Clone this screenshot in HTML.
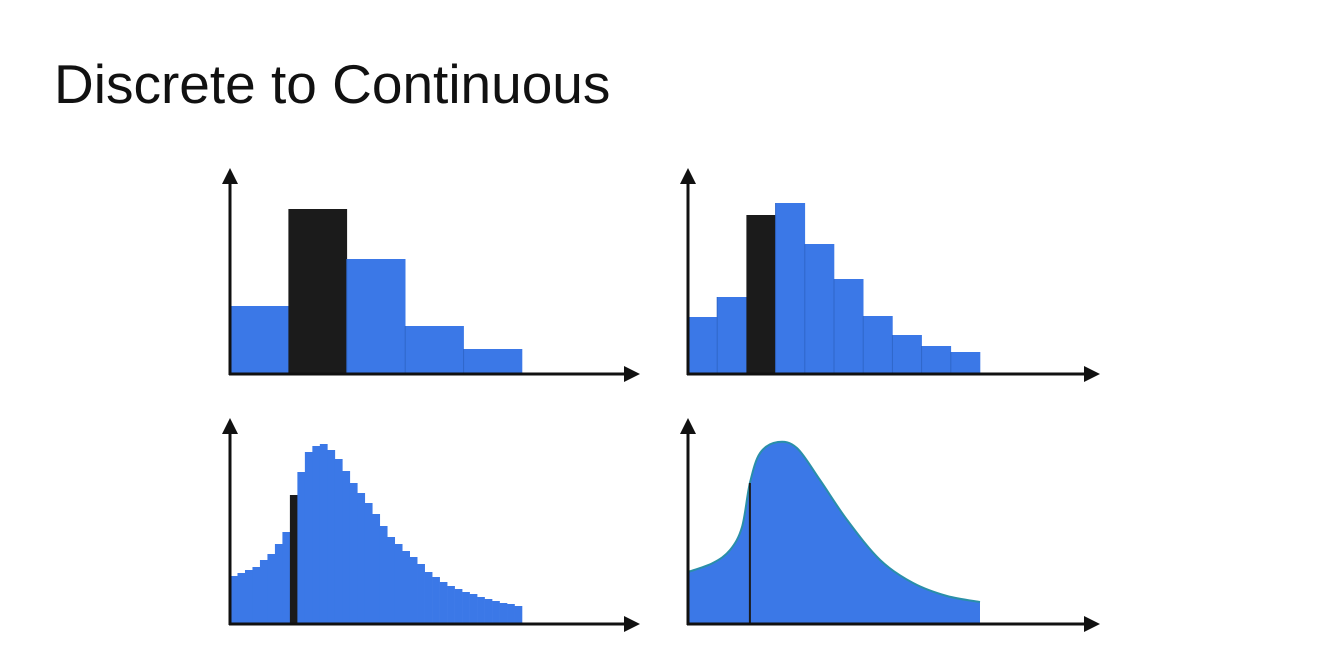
<!DOCTYPE html>
<html><head><meta charset="utf-8"><style>
html,body{margin:0;padding:0;background:#fff;width:1322px;height:651px;overflow:hidden}
svg{display:block}
</style></head><body>
<svg id="s" width="1322" height="651">
<text x="54" y="103" font-family="Liberation Sans, sans-serif" font-size="55" fill="#111">Discrete to Continuous</text>
</svg>
<script>
// Top-left: 5 bars (heights)
const tlValues=[68,165,115,48,25];
const tlHighlight=1;
// Top-right: 10 bars
const trValues=[57,77,159,171,130,95,58,39,28,22];
const trHighlight=2;
// Bottom-left: 39 bars
const blValues=[48,51,54,57,64,70,80,92,129,152,172,178,180,174,165,153,141,131,121,110,98,87,80,73,67,60,52,47,42,38,35,32,30,27,25,23,21,20,18];
const blHighlight=8;
// Bottom-right: curve sample points (x fraction 0..1, height)
const brX=[0,0.085,0.144,0.185,0.212,0.247,0.308,0.373,0.452,0.545,0.658,0.771,0.887,1];
const brY=[52,61,74,97,141,171,182,176,144,104,64,41,28,22];
const brMarkerX=0.212;

const NS='http://www.w3.org/2000/svg';
const svg=document.getElementById('s');
function el(t,a){const e=document.createElementNS(NS,t);for(const k in a)e.setAttribute(k,a[k]);svg.appendChild(e);return e;}
const BLUE='#3b78e7',DARK='#1b1b1b';
const panels=[{x0:230,base:374,yTop:168,xEnd:640},{x0:688,base:374,yTop:168,xEnd:1100},{x0:230,base:624,yTop:418,xEnd:640},{x0:688,base:624,yTop:418,xEnd:1100}];
const span=292;
function drawBars(p,vals,hi,name){
  const w=span/vals.length;
  vals.forEach((v,i)=>{
    const r=el('rect',{x:p.x0+i*w,y:p.base-v,width:w+0.3,height:v,fill:i===hi?DARK:BLUE});
    
    
    if(i!==hi&&vals.length<20){const l=el('line',{x1:p.x0+i*w,y1:p.base-v,x2:p.x0+i*w,y2:p.base,stroke:'#2f66c9','stroke-width':1});}
  });
}
drawBars(panels[0],tlValues,tlHighlight,'top-left');
drawBars(panels[1],trValues,trHighlight,'top-right');
drawBars(panels[2],blValues,blHighlight,'bottom-left');
// curve
(function(){
  const p=panels[3];
  const pts=brX.map((f,i)=>[p.x0+f*span,p.base-brY[i]]);
  let d='M'+pts[0][0]+','+pts[0][1];
  for(let i=0;i<pts.length-1;i++){
    const p0=pts[Math.max(0,i-1)],p1=pts[i],p2=pts[i+1],p3=pts[Math.min(pts.length-1,i+2)];
    const c1=[p1[0]+(p2[0]-p0[0])/6,p1[1]+(p2[1]-p0[1])/6],c2=[p2[0]-(p3[0]-p1[0])/6,p2[1]-(p3[1]-p1[1])/6];
    d+=' C'+c1+' '+c2+' '+p2;
  }
  const area=el('path',{d:d+' L'+(p.x0+span)+','+p.base+' L'+p.x0+','+p.base+' Z',fill:BLUE});
  
  
  const line=el('path',{d:d,fill:'none',stroke:'#2a8fa8','stroke-width':2});
  
  
  let h=0;for(let i=0;i<brX.length-1;i++){if(brMarkerX>=brX[i]&&brMarkerX<=brX[i+1]){h=brY[i]+(brY[i+1]-brY[i])*(brMarkerX-brX[i])/(brX[i+1]-brX[i]);}}
  const mx=p.x0+brMarkerX*span;
  const m=el('line',{x1:mx,y1:p.base-h,x2:mx,y2:p.base,stroke:DARK,'stroke-width':2});
  
  
})();
// axes
panels.forEach((p,i)=>{
  const ya=el('line',{x1:p.x0,y1:p.base+1,x2:p.x0,y2:p.yTop+10,stroke:'#111','stroke-width':3});
  
  
  const yh=el('polygon',{points:(p.x0-8)+','+(p.yTop+16)+' '+(p.x0+8)+','+(p.yTop+16)+' '+p.x0+','+p.yTop,fill:'#111'});
  
  
  const xa=el('line',{x1:p.x0-1,y1:p.base,x2:p.xEnd-10,y2:p.base,stroke:'#111','stroke-width':3});
  
  
  const xh=el('polygon',{points:(p.xEnd-16)+','+(p.base-8)+' '+(p.xEnd-16)+','+(p.base+8)+' '+p.xEnd+','+p.base,fill:'#111'});
  
  
});
</script>
</body></html>
